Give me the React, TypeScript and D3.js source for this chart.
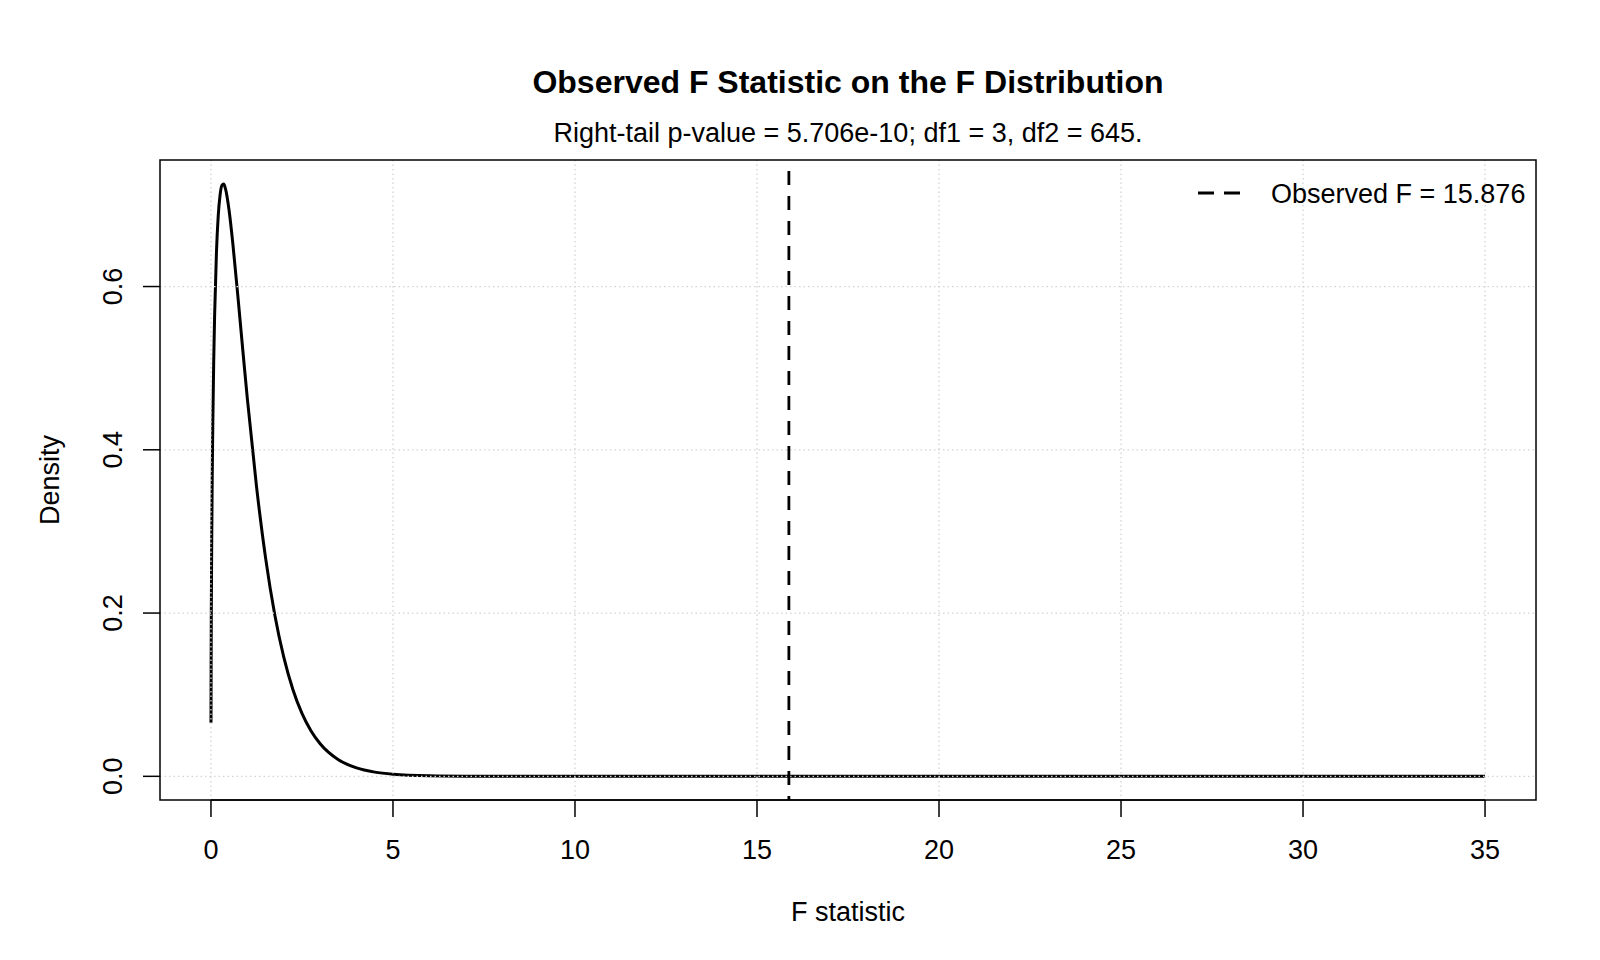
import * as d3 from 'd3'
import React, { useEffect, useRef } from 'react'

// values
const fValues = [0.001, 0.005, 0.01, 0.02, 0.035, 0.05, 0.075, 0.1, 0.15, 0.2, 0.25, 0.3, 0.35, 0.4, 0.5, 0.6, 0.75, 0.9, 1.0, 1.25, 1.5, 1.75, 2.0, 2.25, 2.5, 2.75, 3.0, 3.5, 4.0, 4.5, 5.0, 6.0, 7.0, 8.0, 10, 15, 20, 25, 30, 35]
const densities = [0.0655, 0.1455, 0.204, 0.284, 0.368, 0.43, 0.507, 0.564, 0.641, 0.687, 0.712, 0.724, 0.7255, 0.7195, 0.6925, 0.653, 0.583, 0.5097, 0.4625, 0.3555, 0.2676, 0.1986, 0.146, 0.1064, 0.0771, 0.0556, 0.0399, 0.02035, 0.01028, 0.00515, 0.00256, 0.000627, 0.00015, 0.000036, 0, 0, 0, 0, 0, 0]
const xTicks = [0, 5, 10, 15, 20, 25, 30, 35]
const yTicks = [0, 0.2, 0.4, 0.6]
const observedF = 15.876

const W = 1600
const H = 960
const FONT = '"Liberation Sans", Arial, sans-serif'

export default function App() {
  const ref = useRef<SVGSVGElement>(null)

  useEffect(() => {
    const svg = d3.select(ref.current)
    svg.selectAll('*').remove()

    const left = 160, right = 1536, top = 160, bottom = 800

    const x = d3.scaleLinear().domain([-1.4, 36.4]).range([left, right])
    const y = d3.scaleLinear().domain([-0.029, 0.755]).range([bottom, top])

    svg.append('rect').attr('width', W).attr('height', H).attr('fill', 'white')

    //curve
    const line = d3
      .line<number>()
      .x((d, i) => x(fValues[i]))
      .y(d => y(d))
      .curve(d3.curveMonotoneX)

    svg
      .append('path')
      .attr('d', line(densities))
      .attr('fill', 'none')
      .attr('stroke', 'black')
      .attr('stroke-width', 3)
      .attr('stroke-linejoin', 'round')

    //grid on top, like R's grid()
    const grid = svg.append('g').attr('stroke', '#d3d3d3').attr('stroke-dasharray', '1.5,3').attr('stroke-width', 1.3)
    xTicks.forEach(t => {
      grid.append('line').attr('x1', x(t)).attr('x2', x(t)).attr('y1', top).attr('y2', bottom)
    })
    yTicks.forEach(t => {
      grid.append('line').attr('x1', left).attr('x2', right).attr('y1', y(t)).attr('y2', y(t))
    })

    //observed F line
    svg
      .append('line')
      .attr('x1', x(observedF))
      .attr('x2', x(observedF))
      .attr('y1', top)
      .attr('y2', bottom)
      .attr('stroke', 'black')
      .attr('stroke-width', 2.8)
      .attr('stroke-dasharray', '0,11,14,0')

    //box
    svg
      .append('rect')
      .attr('x', left)
      .attr('y', top)
      .attr('width', right - left)
      .attr('height', bottom - top)
      .attr('fill', 'none')
      .attr('stroke', 'black')
      .attr('stroke-width', 1.5)

    //x axis
    const xAxis = svg.append('g')
    xAxis
      .append('line')
      .attr('x1', x(0))
      .attr('x2', x(35))
      .attr('y1', bottom)
      .attr('y2', bottom)
      .attr('stroke', 'black')
      .attr('stroke-width', 1.5)
    xTicks.forEach(t => {
      xAxis
        .append('line')
        .attr('x1', x(t))
        .attr('x2', x(t))
        .attr('y1', bottom)
        .attr('y2', bottom + 17)
        .attr('stroke', 'black')
        .attr('stroke-width', 1.5)
      xAxis
        .append('text')
        .attr('x', x(t))
        .attr('y', 859)
        .attr('text-anchor', 'middle')
        .attr('font-family', FONT)
        .attr('font-size', 27)
        .text(d3.format('d')(t))
    })

    //y axis
    const yAxis = svg.append('g')
    yTicks.forEach(t => {
      yAxis
        .append('line')
        .attr('x1', left - 17)
        .attr('x2', left)
        .attr('y1', y(t))
        .attr('y2', y(t))
        .attr('stroke', 'black')
        .attr('stroke-width', 1.5)
      yAxis
        .append('text')
        .attr('transform', `translate(122,${y(t)}) rotate(-90)`)
        .attr('text-anchor', 'middle')
        .attr('font-family', FONT)
        .attr('font-size', 27)
        .text(d3.format('.1f')(t))
    })

    //titles
    svg
      .append('text')
      .attr('x', (left + right) / 2)
      .attr('y', 93)
      .attr('text-anchor', 'middle')
      .attr('font-family', FONT)
      .attr('font-weight', 'bold')
      .attr('font-size', 32)
      .text('Observed F Statistic on the F Distribution')

    svg
      .append('text')
      .attr('x', (left + right) / 2)
      .attr('y', 142)
      .attr('text-anchor', 'middle')
      .attr('font-family', FONT)
      .attr('font-size', 27)
      .text('Right-tail p-value = 5.706e-10; df1 = 3, df2 = 645.')

    svg
      .append('text')
      .attr('x', (left + right) / 2)
      .attr('y', 921)
      .attr('text-anchor', 'middle')
      .attr('font-family', FONT)
      .attr('font-size', 27)
      .text('F statistic')

    svg
      .append('text')
      .attr('transform', `translate(59,${(top + bottom) / 2}) rotate(-90)`)
      .attr('text-anchor', 'middle')
      .attr('font-family', FONT)
      .attr('font-size', 27)
      .text('Density')

    //legend
    const legend = svg.append('g')
    legend
      .append('line')
      .attr('x1', 1198)
      .attr('x2', 1240)
      .attr('y1', 193)
      .attr('y2', 193)
      .attr('stroke', 'black')
      .attr('stroke-width', 3)
      .attr('stroke-dasharray', '16,10')
    legend
      .append('text')
      .attr('x', 1271)
      .attr('y', 203)
      .attr('font-family', FONT)
      .attr('font-size', 27)
      .text(`Observed F = ${observedF}`)
  }, [])

  return (
    <svg
      ref={ref}
      width={W}
      height={H}
      style={{ position: 'absolute', left: 0, top: 0 }}
    />
  )
}
